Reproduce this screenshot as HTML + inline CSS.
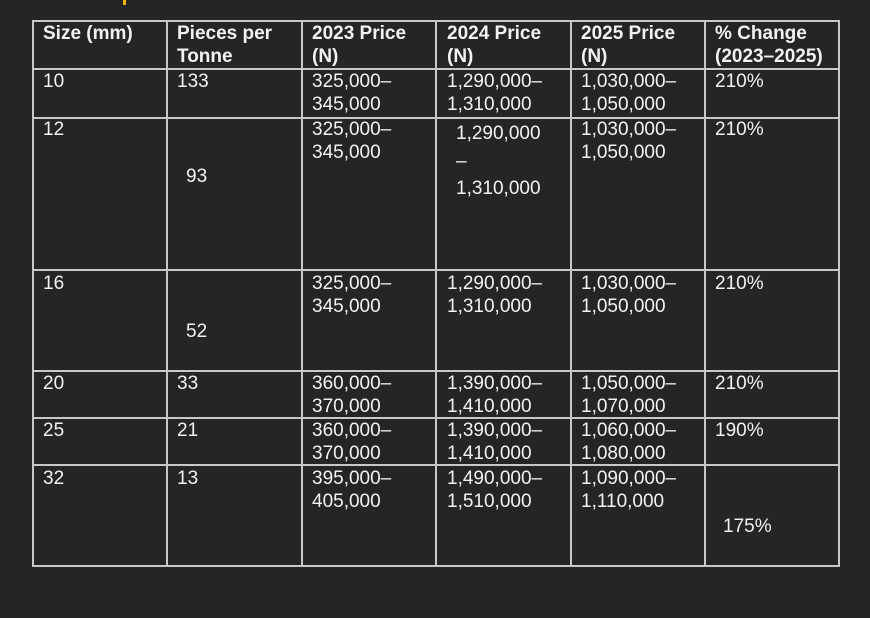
<!DOCTYPE html>
<html><head><meta charset="utf-8"><style>
body{margin:0;width:870px;height:618px;background:#252525;overflow:hidden;position:relative;font-family:"Liberation Sans",sans-serif;color:#f2f2f2}
.h{position:absolute;background:#c8c8c8;height:2px;left:33px;width:807px}
.v{position:absolute;background:#c8c8c8;width:2px;top:20px;height:547px}
.t{position:absolute;font-size:19px;line-height:23px;white-space:nowrap}
.b{font-weight:bold}
</style></head><body>
<div style="position:absolute;left:123px;top:0;width:3px;height:5px;background:#f0b400"></div>
<div class="h" style="top:20px"></div><div class="h" style="top:68px"></div><div class="h" style="top:117px"></div><div class="h" style="top:269px"></div><div class="h" style="top:370px"></div><div class="h" style="top:417px"></div><div class="h" style="top:464px"></div><div class="h" style="top:565px"></div>
<div class="v" style="left:32px"></div><div class="v" style="left:166px"></div><div class="v" style="left:301px"></div><div class="v" style="left:435px"></div><div class="v" style="left:570px"></div><div class="v" style="left:704px"></div><div class="v" style="left:838px"></div>

<div class="t b" style="left:43px;top:22px">Size (mm)</div>
<div class="t b" style="left:177px;top:22px">Pieces per<br>Tonne</div>
<div class="t b" style="left:312px;top:22px">2023 Price<br>(N)</div>
<div class="t b" style="left:447px;top:22px">2024 Price<br>(N)</div>
<div class="t b" style="left:581px;top:22px">2025 Price<br>(N)</div>
<div class="t b" style="left:715px;top:22px">% Change<br>(2023–2025)</div>

<div class="t" style="left:43px;top:70px">10</div>
<div class="t" style="left:177px;top:70px">133</div>
<div class="t" style="left:312px;top:70px">325,000–<br>345,000</div>
<div class="t" style="left:447px;top:70px">1,290,000–<br>1,310,000</div>
<div class="t" style="left:581px;top:70px">1,030,000–<br>1,050,000</div>
<div class="t" style="left:715px;top:70px">210%</div>

<div class="t" style="left:43px;top:118px">12</div>
<div class="t" style="left:186px;top:165px">93</div>
<div class="t" style="left:312px;top:118px">325,000–<br>345,000</div>
<div class="t" style="left:456px;top:122px">1,290,000</div>
<div class="t" style="left:456px;top:150px">–</div>
<div class="t" style="left:456px;top:177px">1,310,000</div>
<div class="t" style="left:581px;top:118px">1,030,000–<br>1,050,000</div>
<div class="t" style="left:715px;top:118px">210%</div>

<div class="t" style="left:43px;top:272px">16</div>
<div class="t" style="left:186px;top:320px">52</div>
<div class="t" style="left:312px;top:272px">325,000–<br>345,000</div>
<div class="t" style="left:447px;top:272px">1,290,000–<br>1,310,000</div>
<div class="t" style="left:581px;top:272px">1,030,000–<br>1,050,000</div>
<div class="t" style="left:715px;top:272px">210%</div>

<div class="t" style="left:43px;top:372px">20</div>
<div class="t" style="left:177px;top:372px">33</div>
<div class="t" style="left:312px;top:372px">360,000–<br>370,000</div>
<div class="t" style="left:447px;top:372px">1,390,000–<br>1,410,000</div>
<div class="t" style="left:581px;top:372px">1,050,000–<br>1,070,000</div>
<div class="t" style="left:715px;top:372px">210%</div>

<div class="t" style="left:43px;top:419px">25</div>
<div class="t" style="left:177px;top:419px">21</div>
<div class="t" style="left:312px;top:419px">360,000–<br>370,000</div>
<div class="t" style="left:447px;top:419px">1,390,000–<br>1,410,000</div>
<div class="t" style="left:581px;top:419px">1,060,000–<br>1,080,000</div>
<div class="t" style="left:715px;top:419px">190%</div>

<div class="t" style="left:43px;top:467px">32</div>
<div class="t" style="left:177px;top:467px">13</div>
<div class="t" style="left:312px;top:467px">395,000–<br>405,000</div>
<div class="t" style="left:447px;top:467px">1,490,000–<br>1,510,000</div>
<div class="t" style="left:581px;top:467px">1,090,000–<br>1,110,000</div>
<div class="t" style="left:723px;top:515px">175%</div>
</body></html>
